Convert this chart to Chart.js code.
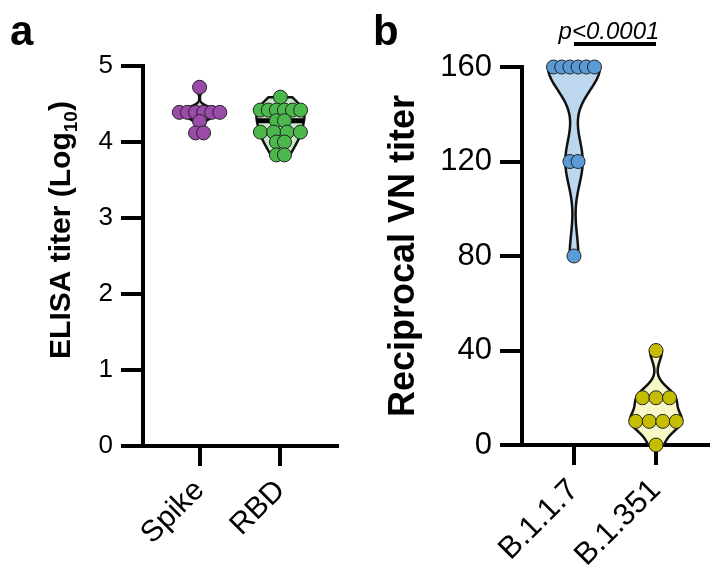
<!DOCTYPE html>
<html>
<head>
<meta charset="utf-8">
<script src="https://cdn.jsdelivr.net/npm/chart.js@4.4.0/dist/chart.umd.min.js"></script>
<style>
  html, body { margin: 0; padding: 0; background: #fff; }
  #wrap { position: relative; width: 720px; height: 582px; }
  .panel { position: absolute; top: 0; width: 360px; height: 582px; }
  .tag { position: absolute; font: bold 42px "Liberation Sans", Arial, sans-serif; line-height: 1; color: #000; }
</style>
</head>
<body>
<div id="wrap">
  <div class="panel" style="left:0"><canvas id="chartA"></canvas></div>
  <div class="panel" style="left:360px"><canvas id="chartB"></canvas></div>
  <div class="tag" style="left:10px;top:10px">a</div>
  <div class="tag" style="left:373px;top:10px">b</div>
</div>
<script>
'use strict';

// panel a - ELISA titers (log10)
const elisaGroups = ['Spike', 'RBD'];
const spikeTiters = [4.72, 4.39, 4.39, 4.39, 4.39, 4.39, 4.39, 4.27, 4.12, 4.12];
const rbdTiters = [4.59, 4.42, 4.42, 4.42, 4.42, 4.42, 4.42, 4.28, 4.28, 4.13, 4.13, 4.13, 4.13, 4.0, 4.0, 3.83, 3.83];
const elisaTicks = [0, 1, 2, 3, 4, 5];

// panel b - virus neutralisation
const variantGroups = ['B.1.1.7', 'B.1.351'];
const b117Titers = [160, 160, 160, 160, 160, 160, 120, 120, 80];
const b1351Titers = [40, 20, 20, 20, 10, 10, 10, 10, 0];
const vnTicks = [0, 40, 80, 120, 160];
const pLabel = 'p<0.0001';

const FONT = '"Liberation Sans", Arial, sans-serif';

// spread equal values side by side (beeswarm-ish), in category units
const swarm = (values, idx) => {
    const counts = {}, seen = {};
    values.forEach(v => counts[v] = (counts[v] || 0) + 1);
    return values.map(v => {
        const n = counts[v];
        const k = seen[v] = (seen[v] || 0) + 1;
        const step = n > 4 ? 0.1 : (n == 2 ? 0.1 : 0.165);
        return { x: idx + (k - 1 - (n - 1) / 2) * step, y: v };
    });
};

const density = (vals, v, bw) => {
    let s = 0;
    vals.forEach(d => { const z = (v - d) / bw; s += Math.exp(-0.5 * z * z); });
    return s;
};

const median = vals => {
    const s = [...vals].sort((a, b) => a - b);
    const m = Math.floor(s.length / 2);
    return s.length % 2 ? s[m] : (s[m - 1] + s[m]) / 2;
};

const violinPlugin = {
    id: 'violins',
    beforeDatasetsDraw(chart, args, opts) {
        const { ctx, scales: { x, y } } = chart;
        opts.groups.forEach((g, i) => {
            const lo = Math.min(...g.values), hi = Math.max(...g.values);
            const N = 300;
            const samples = [];
            for (let s = 0; s <= N; s++) samples.push(lo + (hi - lo) * s / N);
            let maxD = 0;
            samples.concat(g.values).forEach(v => maxD = Math.max(maxD, density(g.values, v, g.bw)));
            const cx = x.getPixelForValue(i);
            const half = v => density(g.values, v, g.bw) / maxD * g.half;

            ctx.save();
            ctx.beginPath();
            samples.forEach((v, k) => {
                const px = cx + half(v), py = y.getPixelForValue(v);
                k ? ctx.lineTo(px, py) : ctx.moveTo(px, py);
            });
            for (let k = samples.length - 1; k >= 0; k--) {
                ctx.lineTo(cx - half(samples[k]), y.getPixelForValue(samples[k]));
            }
            ctx.closePath();
            ctx.fillStyle = g.fill;
            ctx.fill();
            ctx.lineWidth = 2.5;
            ctx.lineJoin = 'round';
            ctx.strokeStyle = '#111';
            ctx.stroke();

            // median
            const m = median(g.values);
            const wm = half(m);
            ctx.beginPath();
            ctx.moveTo(cx - wm, y.getPixelForValue(m));
            ctx.lineTo(cx + wm, y.getPixelForValue(m));
            ctx.lineWidth = 5;
            ctx.strokeStyle = '#000';
            ctx.stroke();
            ctx.restore();
        });
    }
};

// y title with a real subscript
const elisaTitle = {
    id: 'elisaTitle',
    afterDraw(chart) {
        const ctx = chart.ctx;
        const parts = [
            { t: 'ELISA titer (Log', f: 'bold 30px ' + FONT, dy: 0 },
            { t: '10', f: 'bold 19px ' + FONT, dy: 7 },
            { t: ')', f: 'bold 30px ' + FONT, dy: 0 }
        ];
        let total = 0;
        parts.forEach(p => { ctx.font = p.f; p.w = ctx.measureText(p.t).width; total += p.w; });
        ctx.save();
        ctx.translate(70, 230);
        ctx.rotate(-Math.PI / 2);
        ctx.fillStyle = '#000';
        ctx.textBaseline = 'alphabetic';
        let xx = -total / 2;
        parts.forEach(p => { ctx.font = p.f; ctx.fillText(p.t, xx, p.dy); xx += p.w; });
        ctx.restore();
    }
};

const sigBar = {
    id: 'sigBar',
    afterDatasetsDraw(chart) {
        const { ctx, scales: { x } } = chart;
        const x0 = x.getPixelForValue(0), x1 = x.getPixelForValue(1);
        ctx.save();
        ctx.beginPath();
        ctx.moveTo(x0, 44);
        ctx.lineTo(x1, 44);
        ctx.lineWidth = 4;
        ctx.strokeStyle = '#000';
        ctx.stroke();
        ctx.font = 'italic 24px ' + FONT;
        ctx.fillStyle = '#000';
        ctx.textAlign = 'center';
        ctx.textBaseline = 'alphabetic';
        ctx.fillText(pLabel, (x0 + x1) / 2 - 6, 39);
        ctx.restore();
    }
};

const axisLine = { display: true, width: 4, color: '#000' };
const tickMarks = len => ({ display: true, drawOnChartArea: false, drawTicks: true, tickLength: len, lineWidth: 4, color: '#000' });

const dots = (values, idx, color) => ({
    data: swarm(values, idx),
    pointRadius: 7,
    pointHoverRadius: 7,
    pointBackgroundColor: color,
    pointBorderColor: '#222',
    pointBorderWidth: 1,
    showLine: false,
    clip: false
});

const makeChart = (id, cfg) => new Chart(document.getElementById(id), {
    type: 'scatter',
    data: { datasets: cfg.datasets },
    plugins: cfg.plugins,
    options: {
        responsive: true,
        maintainAspectRatio: false,
        animation: false,
        events: [],
        layout: { padding: cfg.padding },
        plugins: { legend: { display: false }, tooltip: { enabled: false }, violins: { groups: cfg.violins } },
        scales: {
            x: {
                type: 'linear', min: cfg.xMin, max: cfg.xMax,
                afterBuildTicks: s => { s.ticks = cfg.groups.map((_, i) => ({ value: i })); },
                ticks: {
                    callback: v => cfg.groups[v],
                    minRotation: 45, maxRotation: 45, autoSkip: false,
                    font: { family: FONT, size: cfg.xFont }, color: '#000', padding: 7
                },
                grid: tickMarks(20),
                border: axisLine,
                afterFit: s => { s.height = cfg.xHeight; }
            },
            y: {
                min: cfg.yMin, max: cfg.yMax,
                afterBuildTicks: s => { s.ticks = cfg.yTicks.map(v => ({ value: v })); },
                ticks: { font: { family: FONT, size: cfg.yFont }, color: '#000', padding: 8 },
                grid: tickMarks(22),
                border: axisLine,
                title: cfg.yTitle,
                afterFit: s => { s.width = cfg.yWidth; }
            }
        }
    }
});

makeChart('chartA', {
    groups: elisaGroups,
    datasets: [dots(spikeTiters, 0, '#9b4cab'), dots(rbdTiters, 1, '#4cb84c')],
    violins: [
        { values: spikeTiters, bw: 0.06, half: 20, fill: '#dcb8e4' },
        { values: rbdTiters, bw: 0.15, half: 24, fill: '#c9eac9' }
    ],
    plugins: [violinPlugin, elisaTitle],
    padding: { left: 0, top: 66, right: 23, bottom: 0 },
    xMin: -0.7, xMax: 1.7, xFont: 30, xHeight: 136,
    yMin: 0, yMax: 5, yTicks: elisaTicks, yFont: 26, yWidth: 143,
    yTitle: { display: false }
});

makeChart('chartB', {
    groups: variantGroups,
    datasets: [dots(b117Titers, 0, '#5b9bd5'), dots(b1351Titers, 1, '#c4bd00')],
    violins: [
        { values: b117Titers, bw: 10, half: 26, fill: '#bdd7ee' },
        { values: b1351Titers, bw: 4.5, half: 26, fill: '#f8f8c6' }
    ],
    plugins: [violinPlugin, sigBar],
    padding: { left: 0, top: 67, right: 12, bottom: 0 },
    xMin: -0.634, xMax: 1.634, xFont: 31, xHeight: 137,
    yMin: 0, yMax: 160, yTicks: vnTicks, yFont: 31, yWidth: 162,
    yTitle: {
        display: true, text: 'Reciprocal VN titer', color: '#000',
        font: { family: FONT, size: 36, weight: 'bold' },
        padding: { top: 22, bottom: 0 }
    }
});
</script>
</body>
</html>
